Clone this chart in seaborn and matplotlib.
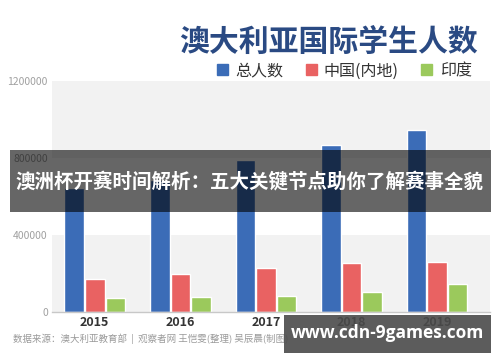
import matplotlib.pyplot as plt
import pandas as pd
import seaborn as sns
from matplotlib.patches import Rectangle, Patch

# data
years = ["2015", "2016", "2017", "2018", "2019"]
total = [645000, 686000, 790000, 867000, 945000]
china = [171000, 197000, 228000, 254000, 260000]
india = [73000, 78000, 83000, 104000, 145000]
series_names = ["总人数", "中国(内地)", "印度"]
yticks = [0, 400000, 800000, 1200000]

colors = ["#3b6cb7", "#e96262", "#9bc95c"]

df = pd.DataFrame({"year": years * 3,
                   "value": total + china + india,
                   "series": [series_names[0]] * 5 + [series_names[1]] * 5 + [series_names[2]] * 5})

sns.set_theme(style="white")
plt.rcParams['font.family'] = ['Noto Sans CJK SC', 'DejaVu Sans']

fig = plt.figure(figsize=(5, 3.62), dpi=100)
ax = fig.add_axes([0.104, 0.138, 0.876, 0.638])

# horizontal bands
for lo, hi in [(0, 400000), (800000, 1200000)]:
    ax.axhspan(lo, hi, color="#f2f2f2", zorder=0, lw=0)

sns.barplot(data=df, x="year", y="value", hue="series", palette=colors,
            saturation=1, width=0.72, gap=0.05, ax=ax, legend=False, zorder=2)

ax.set_xlim(-0.5, 4.62)
ax.set_ylim(0, 1200000)
ax.set_yticks(yticks)
ax.set_yticklabels([str(v) for v in yticks], fontsize=7.5, color="#a0a0a0")
ax.set_xticks(range(len(years)))
ax.set_xticklabels(years, fontsize=9, fontweight="bold", color="#333333")
ax.tick_params(axis="both", length=0, pad=3)
ax.set_xlabel("")
ax.set_ylabel("")
for s in ["top", "right", "left"]:
    ax.spines[s].set_visible(False)
ax.spines["bottom"].set_color("#c8c8c8")
ax.spines["bottom"].set_linewidth(1)

# title and legend
fig.text(0.956, 0.885, "澳大利亚国际学生人数", fontsize=21.5, fontweight="heavy",
         color="#2a4a83", ha="right", va="center")
handles = [Patch(color=c) for c in colors]
fig.legend(handles, series_names, loc="center right", bbox_to_anchor=(0.972, 0.804),
           ncol=3, frameon=False, fontsize=11.5, handlelength=0.7, handleheight=0.7,
           handletextpad=0.45, columnspacing=1.4, labelcolor="#333333")

# source note
fig.text(0.026, 0.063, "数据来源：澳大利亚教育部  |  观察者网 王恺雯(整理) 吴辰晨(制图)",
         fontsize=6.8, color="#9a9a9a", ha="left", va="center")

# overlay banner
fig.patches.append(Rectangle((0.02, 1 - 212 / 362), 0.962, 62 / 362,
                             transform=fig.transFigure, color="black", alpha=0.6, lw=0, zorder=5))
fig.text(0.5, 1 - 181 / 362, "澳洲杯开赛时间解析：五大关键节点助你了解赛事全貌",
         fontsize=14, fontweight="bold", color="white", ha="center", va="center", zorder=6)

# watermark box
fig.patches.append(Rectangle((284 / 500, 1 - 353 / 362), 207 / 500, 38 / 362,
                             transform=fig.transFigure, color="#4a4a4a", alpha=0.9, lw=0, zorder=5))
fig.text(387 / 500, 1 - 333 / 362, "www.cdn-9games.com", fontsize=12.5, fontweight="bold",
         color="white", ha="center", va="center", zorder=6, family=["Open Sans", "DejaVu Sans"])

fig.savefig("out.png", dpi=100)
